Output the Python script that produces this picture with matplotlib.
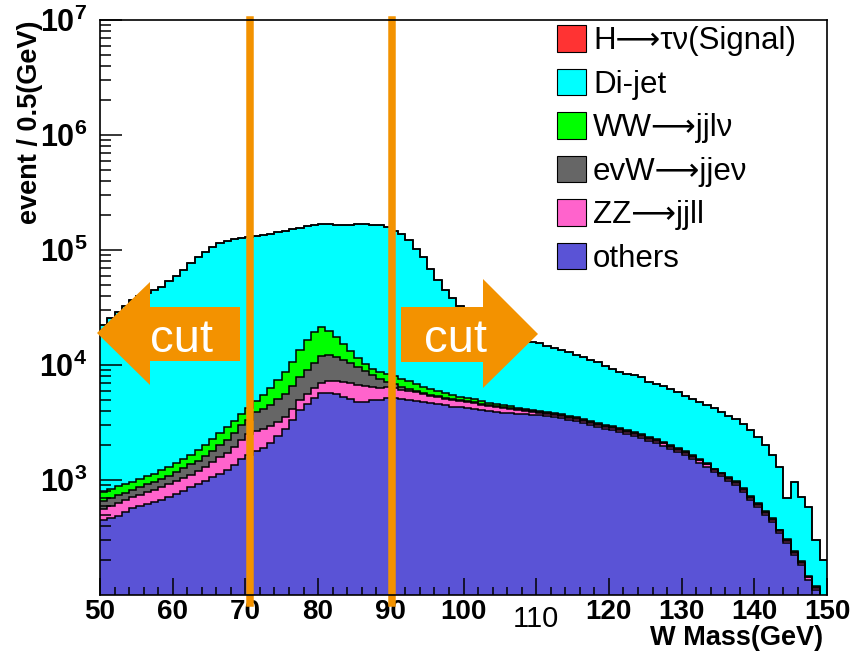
import numpy as np
import matplotlib
matplotlib.use("Agg")
import matplotlib.pyplot as plt
from matplotlib.patches import Patch, Polygon
from matplotlib.ticker import FixedLocator, LogLocator, MultipleLocator, NullFormatter

plt.rcParams['font.family'] = ['Liberation Sans', 'DejaVu Sans']
plt.rcParams['mathtext.fontset'] = 'custom'
plt.rcParams['mathtext.rm'] = 'Liberation Sans'
plt.rcParams['mathtext.bf'] = 'Liberation Sans:bold'

# 1 GeV bins from 50 to 150, counts
edges = np.arange(50, 151, 1)

others = [449, 468, 487, 527, 571, 594, 618, 644, 670, 712,
          756, 802, 869, 923, 980, 1060, 1130, 1220, 1350, 1520,
          1650, 1790, 1900, 2100, 2410, 2770, 3320, 4060, 4580, 5170,
          5710, 5710, 5600, 5270, 5060, 4770, 4770, 4960, 4960, 5170,
          5170, 5060, 4960, 4860, 4770, 4670, 4580, 4490, 4310, 4310,
          4230, 4140, 4060, 3980, 3900, 3830, 3830, 3750, 3750, 3670,
          3670, 3600, 3530, 3460, 3320, 3260, 3130, 3010, 2890, 2770,
          2720, 2610, 2510, 2410, 2320, 2180, 2100, 1980, 1860, 1750,
          1650, 1520, 1410, 1300, 1170, 1080, 980, 905, 787, 670,
          582, 496, 431, 346, 283, 223, 182, 135, 110, 0]

zz = [111, 126, 144, 143, 141, 147, 169, 175, 199, 211,
      224, 238, 231, 277, 320, 380, 460, 500, 590, 710,
      860, 880, 870, 850, 780, 760, 800, 900, 1000, 1100,
      1260, 1550, 1660, 1840, 1910, 1930, 1800, 1480, 1350, 1270,
      1140, 1000, 980, 960, 830, 700, 690, 570, 650, 550,
      540, 530, 430, 420, 410, 400, 310, 310, 230, 230,
      160, 180, 176, 173, 166, 163, 156, 150, 144, 138,
      136, 130, 125, 120, 116, 109, 105, 99, 93, 87,
      82, 76, 70, 65, 58, 54, 49, 45, 39, 33,
      29, 25, 22, 17, 14, 11, 9, 7, 6, 0]

evw = [96, 103, 110, 101, 107, 128, 136, 143, 151, 157,
       190, 230, 280, 260, 320, 350, 430, 510, 630, 780,
       810, 1230, 1370, 1540, 1870, 2070, 2450, 2910, 3470, 4130,
       5030, 4940, 4440, 3890, 3430, 2910, 2310, 1750, 1250, 670,
       530, 380, 240, 120, 110, 110, 100, 110, 100, 100,
       90, 80, 80, 70, 70, 60, 60, 50, 50, 50,
       40, 36, 35, 35, 33, 33, 31, 30, 29, 28,
       27, 26, 25, 24, 23, 22, 21, 20, 19, 18,
       16, 15, 14, 13, 12, 11, 10, 9, 8, 7,
       6, 5, 4, 3, 3, 2, 2, 1, 1, 0]

ww = [131, 139, 147, 152, 143, 151, 157, 168, 200, 220,
      240, 250, 270, 360, 400, 490, 550, 660, 690, 740,
      910, 960, 1340, 1820, 2350, 3090, 4030, 5630, 7450, 9000,
      9400, 7600, 5800, 4200, 2800, 1890, 1320, 1040, 1130, 1240,
      1180, 1120, 1080, 900, 730, 700, 570, 540, 420, 310,
      310, 280, 260, 240, 220, 200, 180, 160, 130, 110,
      90, 54, 53, 52, 50, 49, 47, 45, 43, 42,
      41, 39, 38, 36, 35, 33, 32, 30, 28, 26,
      25, 23, 21, 20, 18, 16, 15, 14, 12, 10,
      9, 7, 6, 5, 4, 3, 3, 2, 2, 0]

dijet = [21500, 24800, 28000, 31700, 35700, 38800, 41200, 43800, 46400, 52400,
         58000, 65500, 75400, 85100, 94100, 103700, 112400, 117100, 121700, 123300,
         125800, 127100, 129500, 131700, 135600, 137300, 141400, 141500, 145500, 145600,
         146600, 148200, 147500, 149800, 151800, 156500, 157800, 155800, 156300, 149700,
         138000, 130400, 114700, 95200, 80500, 62200, 48900, 39200, 32800, 27300,
         23100, 19570, 16970, 15090, 13600, 12710, 12120, 11930, 12040, 11740,
         11540, 10730, 10306, 9780, 9431, 8695, 8336, 7765, 7494, 6822,
         6306, 5885, 5652, 5600, 5376, 4766, 4582, 4441, 4180, 3939,
         3597, 3426, 3255, 3092, 2972, 2739, 2546, 2417, 2224, 2000,
         1744, 1487, 1187, 929, 393, 722, 516, 437, 182, 202]

# signal is too small to be seen on top of the stack
signal = [2, 2, 2, 2, 2, 3, 3, 3, 3, 3,
          3, 4, 4, 4, 5, 5, 6, 6, 7, 8,
          9, 10, 11, 12, 13, 14, 15, 16, 17, 18,
          18, 17, 16, 15, 14, 13, 12, 11, 10, 9,
          8, 7, 7, 6, 6, 5, 5, 5, 4, 4,
          4, 4, 3, 3, 3, 3, 3, 3, 2, 2,
          2, 2, 2, 2, 2, 2, 2, 2, 2, 2,
          2, 1, 1, 1, 1, 1, 1, 1, 1, 1,
          1, 1, 1, 1, 1, 1, 1, 1, 1, 1,
          1, 1, 1, 1, 1, 1, 0, 0, 0, 0]

layers = [others, zz, evw, ww, dijet, signal]
colors = ['#5a53d6', '#ff63cc', '#666666', '#00ff00', '#00ffff', '#ff3333']
legend_labels = ['H\u27f6\u03c4\u03bd(Signal)', 'Di-jet', 'WW\u27f6jjl\u03bd',
                 'evW\u27f6jje\u03bd', 'ZZ\u27f6jjll', 'others']

orange = '#f39200'
cut_low, cut_high = 70.6, 90.2

W, H = 850, 657
fig = plt.figure(figsize=(W / 100, H / 100), dpi=100)
ax = fig.add_axes([100 / W, 62 / H, 727 / W, 575 / H])
ax.set_yscale('log')

cum = np.cumsum(np.array(layers, dtype=float), axis=0)
for i in reversed(range(len(layers))):
    ax.stairs(np.maximum(cum[i], 1), edges, baseline=1, fill=True,
              color=colors[i], lw=0, zorder=1)
for i in range(len(layers)):
    ax.stairs(np.maximum(cum[i], 1), edges, baseline=None, fill=False,
              color='black', lw=1.1, zorder=2)

ax.set_xlim(50, 150)
ax.set_ylim(100, 1e7)

for xc in (cut_low, cut_high):
    ax.axvline(xc, ymin=-0.014, ymax=1.0, color=orange, lw=5.4,
               clip_on=False, zorder=4)

# ticks, ROOT style
ax.xaxis.set_major_locator(FixedLocator(range(50, 151, 10)))
ax.xaxis.set_minor_locator(MultipleLocator(2))
xt = [str(v) if v != 110 else '' for v in range(50, 151, 10)]
ax.set_xticklabels(xt, fontsize=20, fontweight='bold')
ax.text(110, -0.018, '110', transform=ax.get_xaxis_transform(),
        ha='center', va='top', fontsize=21)

ax.yaxis.set_major_locator(FixedLocator([1e3, 1e4, 1e5, 1e6, 1e7]))
ax.yaxis.set_minor_locator(LogLocator(base=10, subs=np.arange(2, 10)))
ax.yaxis.set_minor_formatter(NullFormatter())
ax.set_yticklabels([r'$\mathbf{10^{%d}}$' % e for e in range(3, 8)], fontsize=22)

ax.tick_params(axis='x', which='major', direction='in', length=12, width=1.1, pad=3)
ax.tick_params(axis='x', which='minor', direction='in', length=6, width=1.1)
ax.tick_params(axis='y', which='major', direction='in', length=16, width=1.1, pad=9)
ax.tick_params(axis='y', which='minor', direction='in', length=8, width=1.1)
ax.tick_params(top=False, right=False, which='both')
for s in ax.spines.values():
    s.set_linewidth(1.2)
    s.set_zorder(5)

# arrows with "cut"
def px(pts):
    return [(x / W, 1 - y / H) for x, y in pts]

left_arrow = [(97, 333), (150, 282), (150, 307), (240, 307), (240, 361), (150, 361), (150, 385)]
right_arrow = [(538, 334), (483, 279), (483, 307), (401, 307), (401, 362), (483, 362), (483, 388)]
for pts in (left_arrow, right_arrow):
    fig.patches.append(Polygon(px(pts), closed=True, facecolor=orange,
                               edgecolor='none', transform=fig.transFigure, zorder=6))
fig.text(181 / W, 1 - 352 / H, 'cut', color='white', fontsize=34,
         ha='center', va='baseline', zorder=7)
fig.text(456 / W, 1 - 352 / H, 'cut', color='white', fontsize=34,
         ha='center', va='baseline', zorder=7)

# legend
handles = [Patch(facecolor=colors[i], edgecolor='black', lw=0.8)
           for i in [5, 4, 3, 2, 1, 0]]
fig.legend(handles, legend_labels, loc='upper left',
           bbox_to_anchor=(557 / W, 1 - 25 / H), frameon=False, fontsize=22.5,
           handlelength=0.93, handleheight=0.93, handletextpad=0.22,
           labelspacing=0.40, borderpad=0, borderaxespad=0)

fig.text(30 / W, 1 - 20 / H, 'event / 0.5(GeV)', rotation=90, ha='center',
         va='top', fontsize=19.5, fontweight='bold')
fig.text(823 / W, 1 - 638 / H, 'W Mass(GeV)', ha='right', va='center',
         fontsize=19.5, fontweight='bold')

fig.savefig('out.png', dpi=100)
